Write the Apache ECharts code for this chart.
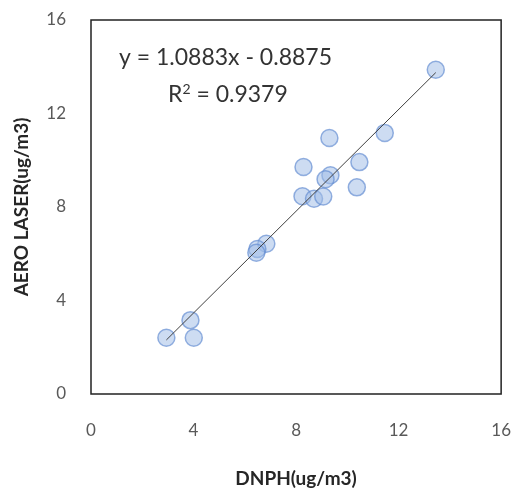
<!DOCTYPE html>
<html><head><meta charset="utf-8">
<script src="https://cdn.jsdelivr.net/npm/echarts@6/dist/echarts.min.js"></script>
<style>html,body{margin:0;padding:0;background:#fff}#c{width:514px;height:493px}</style>
</head><body><div id="c"></div>
<script>
var dnph = [13.45, 11.46, 9.30, 10.47, 8.29, 9.34, 9.15, 10.37, 8.25, 8.70, 9.06, 6.84, 6.49, 6.45, 3.88, 2.94, 4.01];
var aero = [13.87, 11.17, 10.95, 9.92, 9.71, 9.36, 9.19, 8.84, 8.46, 8.35, 8.45, 6.43, 6.20, 6.04, 3.16, 2.41, 2.41];
var slope = 1.0883, intercept = -0.8875, r2 = 0.9379;
var ticks = [0, 4, 8, 12, 16];

var pts = dnph.map(function (x, i) { return [x, aero[i]]; });
var xmin = Math.min.apply(null, dnph), xmax = Math.max.apply(null, dnph);
var trend = [[xmin, slope * xmin + intercept], [xmax, slope * xmax + intercept]];

var chart = echarts.init(document.getElementById('c'));
var lblFont = 'Lato, "Open Sans", sans-serif';
chart.setOption({
  animation: false,
  grid: { left: 91, top: 20, width: 415, height: 380, show: true, borderColor: '#222', borderWidth: 1.5, backgroundColor: '#fff' },
  xAxis: {
    type: 'value', min: ticks[0], max: ticks[ticks.length - 1], interval: 4,
    splitLine: { show: false }, axisTick: { show: false },
    axisLine: { show: false },
    axisLabel: { color: '#595959', fontSize: 17, fontFamily: lblFont, margin: 28 },
    name: 'DNPH(ug/m3)', nameLocation: 'middle', nameGap: 75,
    nameTextStyle: { color: '#262626', fontSize: 19, fontWeight: 'bold', fontFamily: lblFont }
  },
  yAxis: {
    type: 'value', min: ticks[0], max: ticks[ticks.length - 1], interval: 4,
    splitLine: { show: false }, axisTick: { show: false },
    axisLine: { show: false },
    axisLabel: { color: '#595959', fontSize: 17, fontFamily: lblFont, margin: 25 },
    name: 'AERO LASER(ug/m3)', nameLocation: 'middle', nameGap: 60,
    nameTextStyle: { color: '#262626', fontSize: 19, fontWeight: 'bold', fontFamily: lblFont }
  },
  series: [
    {
      type: 'line', data: trend, symbol: 'none', silent: true,
      lineStyle: { color: '#404040', width: 1 }, z: 3
    },
    {
      type: 'scatter', data: pts, symbol: 'circle', symbolSize: 17,
      itemStyle: { color: 'rgba(160,188,230,0.65)', borderColor: 'rgba(100,140,210,0.85)', borderWidth: 1.5 },
      z: 2
    }
  ],
  graphic: [
    { type: 'text', left: 119, top: 46, style: { text: 'y = ' + slope.toFixed(4) + 'x - ' + Math.abs(intercept).toFixed(4), fill: '#333', font: '23px ' + lblFont } },
    { type: 'text', left: 168, top: 82, style: { text: '{r|R}{s|2}{r| = ' + r2.toFixed(4) + '}', rich: { r: { fill: '#333', fontSize: 23, fontFamily: lblFont, verticalAlign: 'bottom' }, s: { fill: '#333', fontSize: 14, fontFamily: lblFont, verticalAlign: 'top', padding: [0, 0, 10, 0] } } } }
  ]
});
</script></body></html>
